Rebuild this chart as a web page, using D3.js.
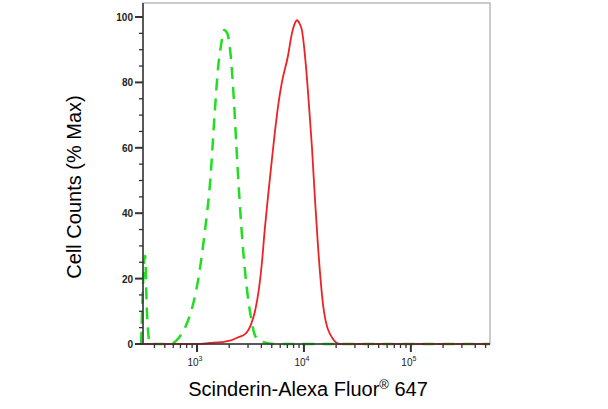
<!DOCTYPE html><html><head><script src="https://cdn.jsdelivr.net/npm/d3@7"></script>
<style>body{margin:0;background:#fff}</style></head><body><svg id="c" width="608" height="409"></svg><script>
const greenX=[300,327,340,364,450,560,680,773,900,1030,1180,1330,1460,1580,1690,1790,1920,2040,2200,2340,2500,2680,2950,3200,3450,3850,5358,550000];
const greenY=[0,27,10,0,0,0,2,5,11,20,34,50,70,85,92,96,95,90,76,60,44,30,16,8,3,1,0,0];
const redX=[300,1000,1322,1700,2030,2400,2811,3200,3487,3800,4050,4300,4610,5000,5358,5800,6220,7080,7720,8200,8600,9100,9570,10440,11200,11890,12700,13530,15390,18290,21700,550000];
const redY=[0,0,0.3,0.6,1,2,3,6,10,17,25,35,45,56,65,74,80,88,95,98,99,98,96,85,72,60,44,30,10,2,0,0];
const yTicks=[0,20,40,60,80,100];
const xDecades=[1000,10000,100000];
const svg=d3.select("#c");
const L=143,R=490,T=3,B=344;
const x=d3.scaleLog().domain([10**2.495,10**5.74]).range([L,R]);
const y=d3.scaleLinear().domain([0,100]).range([B,17]);
svg.append("rect").attr("x",L).attr("y",T).attr("width",R-L).attr("height",B-T).attr("fill","none").attr("stroke","#999").attr("stroke-width",1);
const line=d3.line().x(d=>x(d[0])).y(d=>y(d[1])).curve(d3.curveMonotoneX);
svg.append("path").attr("d",line(greenX.map((v,i)=>[v,greenY[i]]))).attr("fill","none").attr("stroke","#22dd22").attr("stroke-width",2.5).attr("stroke-dasharray","12,8");
svg.append("path").attr("d",line(redX.map((v,i)=>[v,redY[i]]))).attr("fill","none").attr("stroke","#ee2222").attr("stroke-width",1.8);
const g=svg.append("g");
g.append("line").attr("x1",L).attr("x2",L).attr("y1",T).attr("y2",B).attr("stroke","#333").attr("stroke-width",1.5);
g.append("line").attr("x1",L).attr("x2",R).attr("y1",B).attr("y2",B).attr("stroke","#333").attr("stroke-width",1.5);
d3.range(0,101,5).forEach(v=>{const major=v%20==0;
 g.append("line").attr("x1",L-(major?8:4)).attr("x2",L).attr("y1",y(v)).attr("y2",y(v)).attr("stroke","#333").attr("stroke-width",major?2:1.3);});
yTicks.forEach(v=>g.append("text").attr("x",L-10).attr("y",y(v)+4).attr("text-anchor","end").attr("font-family","Arial,Liberation Sans").attr("font-size",10).attr("font-weight","bold").attr("fill","#222").text(v));
const minor=[];for(let e=2;e<6;e++)for(let m=1;m<10;m++){const v=m*10**e;if(v>=x.domain()[0]&&v<=x.domain()[1])minor.push(v);}
minor.forEach(v=>{const major=[1000,10000,100000].includes(v);
 g.append("line").attr("x1",x(v)).attr("x2",x(v)).attr("y1",B).attr("y2",B+(major?8:4)).attr("stroke","#333").attr("stroke-width",major?2:1.3);});
xDecades.forEach(v=>{const t=g.append("text").attr("x",x(v)-2).attr("y",B+22).attr("text-anchor","middle").attr("font-family","Arial,Liberation Sans").attr("font-size",10).attr("fill","#222");
 t.append("tspan").text("10");t.append("tspan").attr("dy",-5).attr("font-size",7).text(Math.round(Math.log10(v)));});
svg.append("text").attr("transform","translate(81,187) rotate(-90)").attr("text-anchor","middle").attr("font-family","Arial,Liberation Sans").attr("font-size",20).attr("fill","#000").text("Cell Counts (% Max)");
const xl=svg.append("text").attr("x",308).attr("y",396).attr("text-anchor","middle").attr("font-family","Arial,Liberation Sans").attr("font-size",20).attr("fill","#000");
xl.append("tspan").text("Scinderin-Alexa Fluor");xl.append("tspan").attr("dy",-7).attr("font-size",13).text("®");xl.append("tspan").attr("dy",7).text(" 647");
</script></body></html>
